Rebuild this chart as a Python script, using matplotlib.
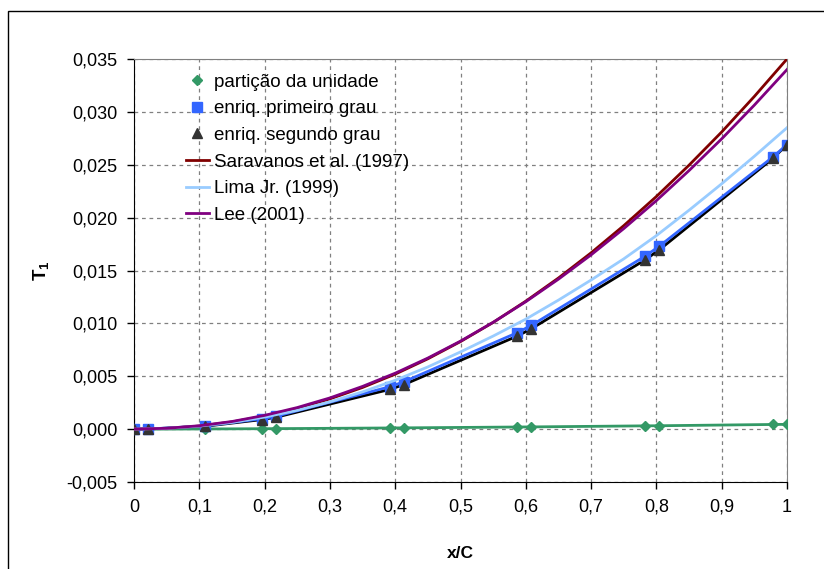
import matplotlib.pyplot as plt
from matplotlib.patches import Rectangle

plt.rcParams['font.family'] = ['Liberation Sans', 'DejaVu Sans']
plt.rcParams['mathtext.fontset'] = 'custom'
plt.rcParams['mathtext.bf'] = 'Liberation Sans:bold'
plt.rcParams['mathtext.rm'] = 'Liberation Sans'

# sampling points along the chord (x/C)
x_pts = [0.0, 0.0217, 0.1087, 0.1957, 0.2174, 0.3913, 0.4130,
         0.5870, 0.6087, 0.7826, 0.8043, 0.9783, 1.0]
particao = [0.0, 0.0, 0.000016, 0.000039, 0.000046, 0.00011, 0.00012,
            0.00020, 0.00021, 0.00031, 0.00032, 0.00044, 0.00045]
enriq_1 = [0.0, 0.00001, 0.000297, 0.000982, 0.001215, 0.00400, 0.00447,
           0.00912, 0.00982, 0.01635, 0.01729, 0.02573, 0.0269]
enriq_2 = [0.0, 0.00001, 0.00027, 0.00090, 0.00112, 0.00375, 0.00420,
           0.00880, 0.00950, 0.01600, 0.01695, 0.02560, 0.0269]

# reference solutions
x_ref = [0.0, 0.05, 0.1, 0.15, 0.2, 0.25, 0.3, 0.35, 0.4, 0.45, 0.5,
         0.55, 0.6, 0.65, 0.7, 0.75, 0.8, 0.85, 0.9, 0.95, 1.0]
saravanos = [0.0, 0.00007, 0.00029, 0.00068, 0.00123, 0.00196, 0.00286,
             0.00394, 0.0052, 0.00665, 0.00828, 0.01009, 0.0121, 0.01429,
             0.01667, 0.01924, 0.0220, 0.02496, 0.0281, 0.03146, 0.0350]
lima = [0.0, 0.00007, 0.000285, 0.00064, 0.00114, 0.00178, 0.00258,
        0.00352, 0.00462, 0.00588, 0.0073, 0.0088, 0.0104, 0.0122,
        0.0141, 0.0161, 0.0183, 0.0207, 0.0232, 0.0258, 0.0285]
lee = [0.0, 0.00008, 0.00032, 0.00072, 0.0013, 0.00204, 0.00295,
       0.00404, 0.00529, 0.00672, 0.00832, 0.0101, 0.01205, 0.01418,
       0.01648, 0.01896, 0.02161, 0.02445, 0.02745, 0.03064, 0.0340]

fig = plt.figure(figsize=(8.24, 5.69), dpi=100)
ax = fig.add_axes([134 / 824, 1 - 482 / 569, 653 / 824, 423 / 569])

# connecting lines of the numerical results
ax.plot(x_pts, particao, color='#339966', lw=2, zorder=3)
ax.plot(x_pts, enriq_2, color='black', lw=2, zorder=2)
ax.plot(x_pts, enriq_1, color='#3366FF', lw=2, zorder=3)

# markers
ax.plot(x_pts, particao, ls='none', color='#339966', marker='D', ms=5,
        label='partição da unidade', zorder=3)
ax.plot(x_pts, enriq_1, ls='none', color='#3366FF', marker='s', ms=7,
        label='enriq. primeiro grau', zorder=3)
ax.plot(x_pts, enriq_2, ls='none', color='#333333', marker='^', ms=7,
        label='enriq. segundo grau', zorder=3)

ax.plot(x_ref, saravanos, color='#800000', lw=2,
        label='Saravanos et al. (1997)', zorder=4)
ax.plot(x_ref, lima, color='#99CCFF', lw=2, label='Lima Jr. (1999)', zorder=4)
ax.plot(x_ref, lee, color='#800080', lw=2, label='Lee (2001)', zorder=4)

ax.set_xlim(0, 1)
ax.set_ylim(-0.005, 0.035)
xt = [i / 10 for i in range(11)]
yt = [-0.005 + i * 0.005 for i in range(9)]
ax.set_xticks(xt)
ax.set_xticklabels(['0'] + ['0,%d' % i for i in range(1, 10)] + ['1'])
ax.set_yticks(yt)
ax.set_yticklabels([('%.3f' % v).replace('.', ',') for v in yt])
ax.tick_params(labelsize=13, length=5, width=1, color='black', pad=7)
ax.grid(True, color='#808080', ls=(0, (3, 3)), lw=0.9)
ax.set_axisbelow(True)

for side in ['top', 'right']:
    ax.spines[side].set_color('#808080')
for side in ['left', 'bottom']:
    ax.spines[side].set_color('black')

ax.set_xlabel('x/C', fontsize=12.5, fontweight='bold', labelpad=22)
ax.set_ylabel(r'$\mathbf{T_1}$', fontsize=13.5, labelpad=11)

ax.legend(loc='upper left', bbox_to_anchor=(0.079, 0.966), frameon=False,
          fontsize=13.5, handlelength=1.25, handletextpad=0.25,
          labelspacing=0.51, borderpad=0, borderaxespad=0)

# outer chart frame
fig.patches.append(Rectangle((8 / 824, -0.1), 1.2, 0.1 + 1 - 11 / 569,
                             transform=fig.transFigure, fill=False,
                             edgecolor='black', lw=1))

fig.savefig('out.png', dpi=100)
